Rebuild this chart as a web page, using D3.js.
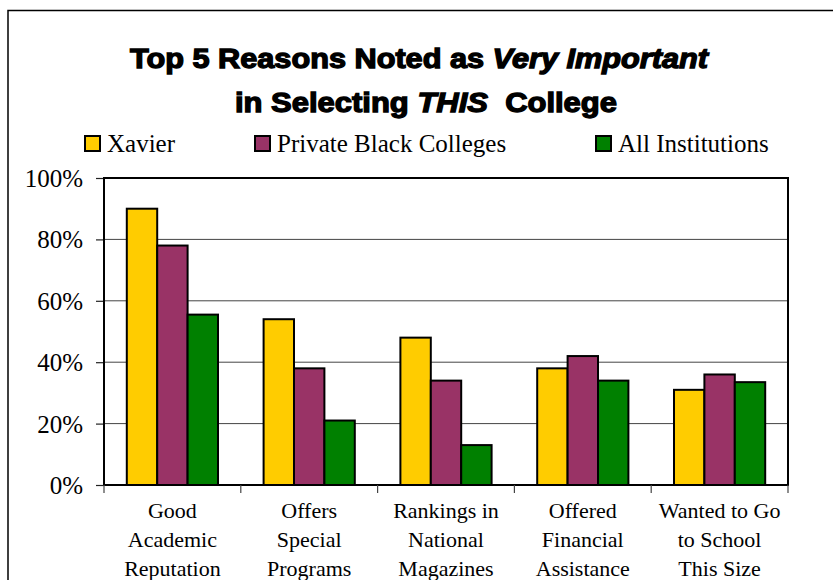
<!DOCTYPE html>
<html><head><meta charset="utf-8">
<script src="https://cdn.jsdelivr.net/npm/d3@7"></script>
<style>body{margin:0;background:#fff}svg{display:block}</style>
</head><body>
<svg id="c" width="833" height="580"></svg>
<script>
const categories = [
  ["Good","Academic","Reputation"],
  ["Offers","Special","Programs"],
  ["Rankings in","National","Magazines"],
  ["Offered","Financial","Assistance"],
  ["Wanted to Go","to School","This Size"]
];
const seriesNames = ["Xavier","Private Black Colleges","All Institutions"];
const xavier = [90, 54, 48, 38, 31];
const privateBlack = [78, 38, 34, 42, 36];
const allInst = [55.5, 21, 13, 34, 33.5];
const yTicks = [0, 20, 40, 60, 80, 100];
const colors = ["#FFCC00","#993366","#008000"];

const svg = d3.select("#c");
const m = {l:104, t:178, r:788, b:485};
const series = [xavier, privateBlack, allInst];
const serif = "'Times New Roman','Liberation Serif',serif";

// outer border
svg.append("path").attr("d","M8,590 V10.5 H840").attr("fill","none").attr("stroke","#000").attr("stroke-width",1.5);

// title
const title = svg.append("g").attr("font-family","'Liberation Sans', Arial, sans-serif").attr("font-weight","bold")
  .attr("font-size",27).attr("fill","#000").attr("stroke","#000").attr("stroke-width",1.3);
const t1 = title.append("text").attr("x",130).attr("y",68).attr("textLength",578).attr("lengthAdjust","spacingAndGlyphs");
t1.append("tspan").text("Top 5 Reasons Noted as ");
t1.append("tspan").attr("font-style","italic").text("Very Important");
const t2 = title.append("text").attr("x",235).attr("y",112).attr("textLength",382).attr("lengthAdjust","spacingAndGlyphs");
t2.append("tspan").text("in Selecting ");
t2.append("tspan").attr("font-style","italic").text("THIS");
t2.append("tspan").text("\u00a0 College");

// legend
const legX = [84, 254, 595];
const leg = svg.append("g").attr("font-family",serif).attr("font-size",25);
seriesNames.forEach((n,i)=>{
  leg.append("rect").attr("x",legX[i]+1).attr("y",136).attr("width",15).attr("height",15)
    .attr("fill",colors[i]).attr("stroke","#000").attr("stroke-width",2);
  leg.append("text").attr("x",legX[i]+23).attr("y",151.5).text(n);
});

const x = d3.scaleBand().domain(d3.range(categories.length)).range([m.l,m.r]).paddingInner(1/3).paddingOuter(1/6);
const xs = d3.scaleBand().domain(d3.range(3)).range([0,x.bandwidth()]);
const y = d3.scaleLinear().domain([0,100]).range([m.b,m.t]);

// gridlines
svg.append("g").selectAll("line").data(yTicks.filter(d=>d>0&&d<100)).join("line")
  .attr("x1",m.l).attr("x2",m.r).attr("y1",d=>y(d)).attr("y2",d=>y(d))
  .attr("stroke","#444").attr("stroke-width",1);

// y axis
const yAxis = svg.append("g").attr("transform",`translate(${m.l},0)`)
  .call(d3.axisLeft(y).tickValues(yTicks).tickFormat(d=>d+"%").tickSize(8).tickPadding(13));
yAxis.select(".domain").remove();
yAxis.selectAll("line").attr("stroke","#222").attr("stroke-width",1.2);
yAxis.selectAll("text").attr("font-family",serif).attr("font-size",25).attr("fill","#000").attr("dy","0.34em");

// bars
categories.forEach((c,ci)=>{
  series.forEach((s,si)=>{
    svg.append("rect").attr("x",x(ci)+xs(si)).attr("y",y(s[ci])).attr("width",xs.bandwidth()).attr("height",y(0)-y(s[ci]))
      .attr("fill",colors[si]).attr("stroke","#000").attr("stroke-width",2);
  });
});

// plot border
svg.append("rect").attr("x",m.l).attr("y",m.t).attr("width",m.r-m.l).attr("height",m.b-m.t)
  .attr("fill","none").attr("stroke","#000").attr("stroke-width",2);

// x ticks at boundaries
const xb = d3.scaleLinear().domain([0,categories.length]).range([m.l,m.r]);
svg.append("g").selectAll("line").data(d3.range(categories.length+1)).join("line")
  .attr("x1",d=>xb(d)).attr("x2",d=>xb(d)).attr("y1",m.b).attr("y2",m.b+8)
  .attr("stroke","#444").attr("stroke-width",1.2);

// x labels
const xl = svg.append("g").attr("font-family",serif).attr("font-size",22).attr("text-anchor","middle");
categories.forEach((c,ci)=>{
  const t = xl.append("text").attr("x",x(ci)+x.bandwidth()/2).attr("y",518);
  c.forEach((line,li)=>t.append("tspan").attr("x",x(ci)+x.bandwidth()/2).attr("dy",li?29:0).text(line));
});
</script>
</body></html>
